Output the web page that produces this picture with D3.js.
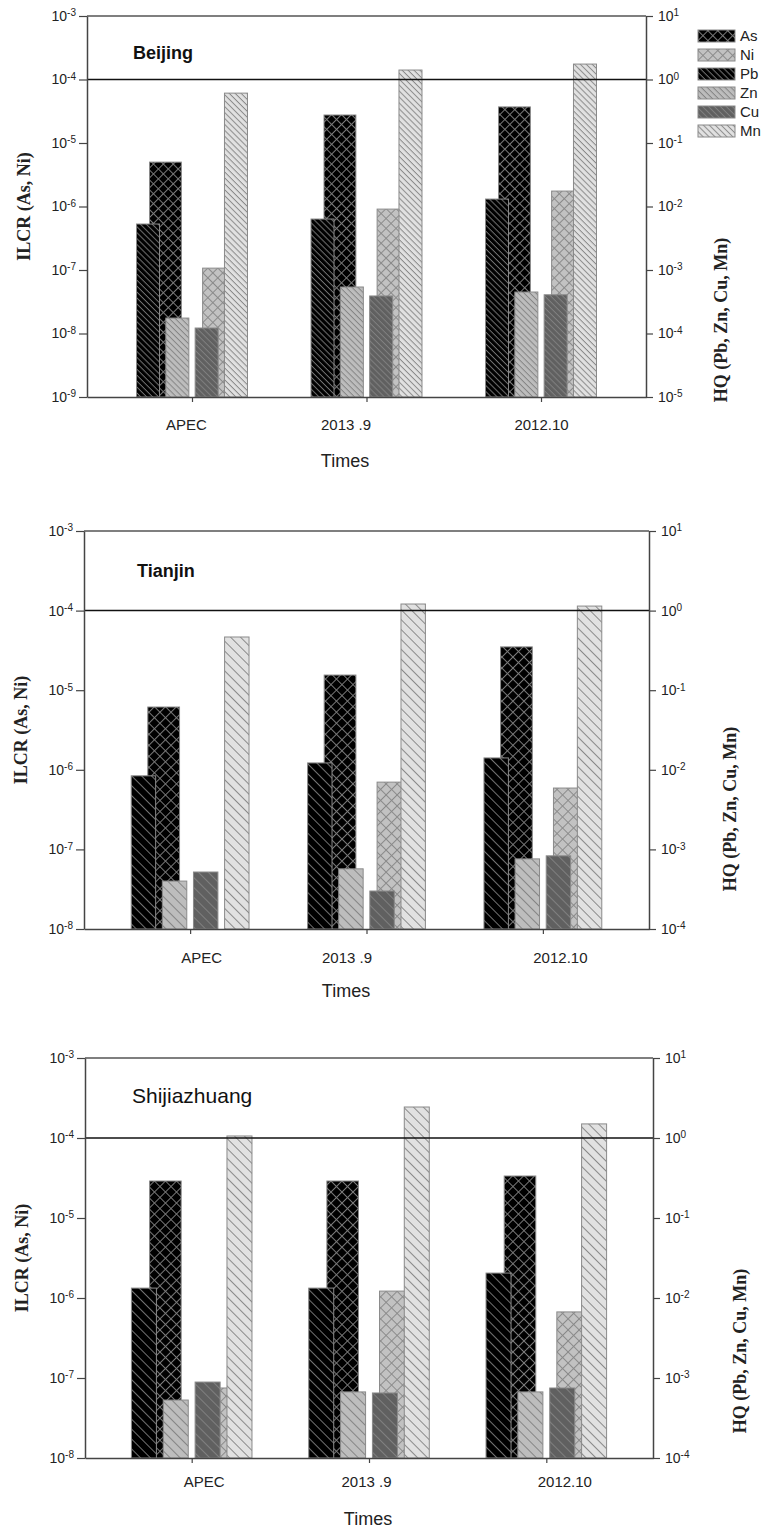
<!DOCTYPE html>
<html><head><meta charset="utf-8">
<script src="https://cdn.jsdelivr.net/npm/d3@7"></script>
<style>body{margin:0;background:#fff}</style>
</head><body><svg id="c" width="767" height="1529"></svg>
<script>
// ---------------- data ----------------
const categories = ["APEC", "2013 .9", "2012.10"];
const ilcrSeries = ["As", "Ni"];
const hqSeries = ["Pb", "Zn", "Cu", "Mn"];
const legendSeries = ["As", "Ni", "Pb", "Zn", "Cu", "Mn"];
const cityNames = ["Beijing", "Tianjin", "Shijiazhuang"];

const beijingAs = [5.0e-6, 2.76e-5, 3.7e-5];
const beijingNi = [1.07e-7, 9.1e-7, 1.75e-6];
const beijingPb = [5.3e-3, 6.35e-3, 1.31e-2];
const beijingZn = [1.75e-4, 5.4e-4, 4.5e-4];
const beijingCu = [1.22e-4, 3.9e-4, 4.07e-4];
const beijingMn = [0.61, 1.41, 1.75];

const tianjinAs = [6.15e-6, 1.55e-5, 3.5e-5];
const tianjinNi = [null, 7.0e-7, 5.9e-7];
const tianjinPb = [8.4e-3, 1.22e-2, 1.41e-2];
const tianjinZn = [4.0e-4, 5.7e-4, 7.6e-4];
const tianjinCu = [5.2e-4, 3.0e-4, 8.3e-4];
const tianjinMn = [0.466, 1.21, 1.14];

const shijiazhuangAs = [2.9e-5, 2.9e-5, 3.35e-5];
const shijiazhuangNi = [7.5e-8, 1.22e-6, 6.7e-7];
const shijiazhuangPb = [1.33e-2, 1.33e-2, 2.05e-2];
const shijiazhuangZn = [5.3e-4, 6.7e-4, 6.7e-4];
const shijiazhuangCu = [8.9e-4, 6.5e-4, 7.5e-4];
const shijiazhuangMn = [1.06, 2.44, 1.5];

const beijingLeftExp = [-3, -4, -5, -6, -7, -8, -9];
const beijingRightExp = [1, 0, -1, -2, -3, -4, -5];
const otherLeftExp = [-3, -4, -5, -6, -7, -8];
const otherRightExp = [1, 0, -1, -2, -3, -4];

const ilcrThreshold = 1e-4;   // = HQ 1
const leftTitle = "ILCR (As, Ni)";
const rightTitle = "HQ (Pb, Zn, Cu, Mn)";
const xTitle = "Times";

const cityData = [
  {As: beijingAs, Ni: beijingNi, Pb: beijingPb, Zn: beijingZn, Cu: beijingCu, Mn: beijingMn, lexp: beijingLeftExp, rexp: beijingRightExp},
  {As: tianjinAs, Ni: tianjinNi, Pb: tianjinPb, Zn: tianjinZn, Cu: tianjinCu, Mn: tianjinMn, lexp: otherLeftExp, rexp: otherRightExp},
  {As: shijiazhuangAs, Ni: shijiazhuangNi, Pb: shijiazhuangPb, Zn: shijiazhuangZn, Cu: shijiazhuangCu, Mn: shijiazhuangMn, lexp: otherLeftExp, rexp: otherRightExp}
];

// ---------------- styles / layout ----------------
const seriesStyle = {
  As: {fill: "#000000", line: "#7a7a7a", cross: true},
  Ni: {fill: "#c2c2c2", line: "#8a8a8a", cross: true},
  Pb: {fill: "#000000", line: "#727272", cross: false},
  Zn: {fill: "#bdbdbd", line: "#858585", cross: false},
  Cu: {fill: "#606060", line: "#808080", cross: false},
  Mn: {fill: "#e1e1e1", line: "#8a8a8a", cross: false}
};

const layout = [
  {left: 87, right: 646, top: 16, bottom: 397, hqFrac: 0.636, ilcrFrac: 0.487,
   labelY: 430, labelDx: [-6, -21, 0], timesX: 345, timesY: 467,
   title: {x: 133, y: 59, size: 18, weight: "bold"}, lTitleX: 24, hqTitle: {x: 721, cy: 320},
   hatch: 4.2, cross: 7},
  {left: 84, right: 649, top: 531, bottom: 929, hqFrac: 0.668, ilcrFrac: 0.48,
   labelY: 963, labelDx: [11, -20, 17], timesX: 346, timesY: 997,
   title: {x: 137, y: 577, size: 18, weight: "bold"}, lTitleX: 21, hqTitle: {x: 730, cy: 809},
   hatch: 7, cross: 7.8},
  {left: 85, right: 653, top: 1058, bottom: 1458, hqFrac: 0.68, ilcrFrac: 0.475,
   labelY: 1487, labelDx: [12, -3, 18], timesX: 368, timesY: 1525,
   title: {x: 132, y: 1103, size: 21, weight: "normal"}, lTitleX: 22, hqTitle: {x: 740, cy: 1351},
   hatch: 7, cross: 7.8}
];

const sans = "'Liberation Sans', Arial, sans-serif";
const serif = "'Liberation Serif', 'Times New Roman', serif";

const svg = d3.select("#c");
const defs = svg.append("defs");

function makePattern(id, st, s) {
  const p = defs.append("pattern").attr("id", id).attr("patternUnits", "userSpaceOnUse")
    .attr("width", s).attr("height", s).attr("patternTransform", "rotate(45)");
  p.append("rect").attr("width", s).attr("height", s).attr("fill", st.fill);
  p.append("line").attr("x1", 0).attr("y1", 0.5).attr("x2", s).attr("y2", 0.5)
    .attr("stroke", st.line).attr("stroke-width", 1);
  if (st.cross) p.append("line").attr("x1", 0.5).attr("y1", 0).attr("x2", 0.5).attr("y2", s)
    .attr("stroke", st.line).attr("stroke-width", 1);
}

function expLabels(sel, anchor) {
  sel.selectAll(".tick text").each(function(d) {
    const e = Math.round(Math.log10(d));
    const t = d3.select(this).text(null).attr("text-anchor", anchor)
      .attr("font-family", sans).attr("font-size", 14).attr("fill", "#222");
    t.append("tspan").text("10");
    t.append("tspan").attr("dy", "-0.45em").attr("font-size", 10).text(e);
  });
}

cityData.forEach((cd, ci) => {
  const L = layout[ci];
  const g = svg.append("g");
  legendSeries.forEach(k => makePattern(`p${ci}-${k}`, seriesStyle[k], seriesStyle[k].cross ? L.cross : L.hatch));

  const x = d3.scalePoint().domain(categories).range([L.left, L.right]).padding(0.6017);
  const step = x.step();
  const hqBand = d3.scaleBand().domain(hqSeries).range([-step * L.hqFrac / 2, step * L.hqFrac / 2]).paddingInner(0.215);
  const ilBand = d3.scaleBand().domain(ilcrSeries).range([-step * L.ilcrFrac / 2, step * L.ilcrFrac / 2]).paddingInner(0.4);

  const lMin = Math.pow(10, d3.min(cd.lexp)), lMax = Math.pow(10, d3.max(cd.lexp));
  const rMin = Math.pow(10, d3.min(cd.rexp)), rMax = Math.pow(10, d3.max(cd.rexp));
  const yL = d3.scaleLog().domain([lMin, lMax]).range([L.bottom, L.top]);
  const yR = d3.scaleLog().domain([rMin, rMax]).range([L.bottom, L.top]);

  // ILCR bars (behind)
  ilcrSeries.forEach(k => {
    g.append("g").selectAll("rect").data(categories.map((c, i) => ({c, v: cd[k][i]})).filter(d => d.v != null))
      .join("rect")
      .attr("x", d => x(d.c) + ilBand(k)).attr("width", ilBand.bandwidth())
      .attr("y", d => yL(d.v)).attr("height", d => L.bottom - yL(d.v))
      .attr("fill", `url(#p${ci}-${k})`).attr("stroke", "#8a8a8a").attr("stroke-width", 1);
  });
  // HQ bars (front)
  hqSeries.forEach(k => {
    g.append("g").selectAll("rect").data(categories.map((c, i) => ({c, v: cd[k][i]})).filter(d => d.v != null))
      .join("rect")
      .attr("x", d => x(d.c) + hqBand(k)).attr("width", hqBand.bandwidth())
      .attr("y", d => yR(d.v)).attr("height", d => L.bottom - yR(d.v))
      .attr("fill", `url(#p${ci}-${k})`).attr("stroke", "#8a8a8a").attr("stroke-width", 1);
  });

  // frame top
  g.append("line").attr("x1", L.left).attr("x2", L.right).attr("y1", yL(lMax)).attr("y2", yL(lMax))
    .attr("stroke", "#555").attr("stroke-width", 1.5);
  // threshold line
  g.append("line").attr("x1", L.left).attr("x2", L.right).attr("y1", yL(ilcrThreshold)).attr("y2", yL(ilcrThreshold))
    .attr("stroke", "#111").attr("stroke-width", 1.5);

  // axes
  const la = g.append("g").attr("transform", `translate(${L.left},0)`)
    .call(d3.axisLeft(yL).tickValues(cd.lexp.map(e => Math.pow(10, e))).tickSize(8).tickSizeOuter(0).tickPadding(3));
  expLabels(la, "end");
  const ra = g.append("g").attr("transform", `translate(${L.right},0)`)
    .call(d3.axisRight(yR).tickValues(cd.rexp.map(e => Math.pow(10, e))).tickSize(7).tickSizeOuter(0).tickPadding(5));
  expLabels(ra, "start");
  const ba = g.append("g").attr("transform", `translate(0,${L.bottom})`)
    .call(d3.axisBottom(x).tickSize(5).tickSizeOuter(0).tickPadding(L.labelY - L.bottom - 16));
  ba.selectAll(".tick text").attr("font-family", sans).attr("font-size", 15).attr("fill", "#222")
    .attr("dx", (d, i) => L.labelDx[i]);
  [la, ra, ba].forEach(a => {
    a.select(".domain").attr("stroke", "#444").attr("stroke-width", 1.5);
    a.selectAll(".tick line").attr("stroke", "#444").attr("stroke-width", 1.2);
  });

  // titles
  g.append("text").attr("x", L.title.x).attr("y", L.title.y).attr("font-family", sans)
    .attr("font-size", L.title.size).attr("font-weight", L.title.weight).attr("fill", "#111").text(cityNames[ci]);
  g.append("text").attr("x", L.timesX).attr("y", L.timesY).attr("text-anchor", "middle")
    .attr("font-family", sans).attr("font-size", 18).attr("fill", "#222").text(xTitle);
  g.append("text").attr("transform", `translate(${L.lTitleX},${(L.top + L.bottom) / 2}) rotate(-90)`)
    .attr("text-anchor", "middle").attr("dominant-baseline", "central")
    .attr("font-family", serif).attr("font-weight", "bold").attr("font-size", 18).attr("fill", "#222").text(leftTitle);
  g.append("text").attr("transform", `translate(${L.hqTitle.x},${L.hqTitle.cy}) rotate(-90)`)
    .attr("text-anchor", "middle").attr("dominant-baseline", "central")
    .attr("font-family", serif).attr("font-weight", "bold").attr("font-size", 18).attr("fill", "#222").text(rightTitle);

  // legend (first panel only)
  if (ci === 0) {
    const lg = g.append("g").attr("transform", "translate(698,30)");
    legendSeries.forEach((k, i) => {
      lg.append("rect").attr("x", 0).attr("y", i * 19).attr("width", 37).attr("height", 12)
        .attr("fill", `url(#p0-${k})`).attr("stroke", "#8a8a8a").attr("stroke-width", 1);
      lg.append("text").attr("x", 42).attr("y", i * 19 + 11).attr("font-family", sans)
        .attr("font-size", 15).attr("fill", "#222").text(k);
    });
  }
});
</script>
</body></html>
